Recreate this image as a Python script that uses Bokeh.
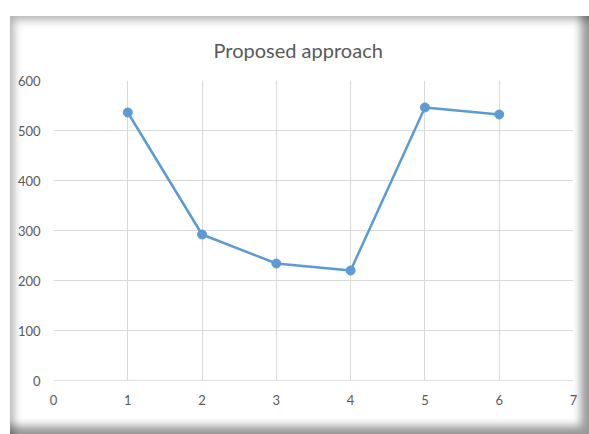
from bokeh.plotting import figure
from bokeh.models import Span, FixedTicker, Range1d, Title
from bokeh.embed import file_html
from bokeh.resources import INLINE

x_vals = [1, 2, 3, 4, 5, 6]
y_vals = [536, 292, 234, 220, 546, 532]
x_ticks = [0, 1, 2, 3, 4, 5, 6, 7]
y_ticks = [0, 100, 200, 300, 400, 500, 600]
title_text = "Proposed approach"

FONT = "Lato"
LINE = "#5B9BD5"
GRID = "#d9d9d9"
TXT = "#595959"

p = figure(width=589, height=434, output_backend="svg", toolbar_location=None,
           x_range=Range1d(0, 7), y_range=Range1d(0, 600),
           min_border_left=53, min_border_right=16, min_border_top=80, min_border_bottom=54)
p.title = None
p.outline_line_color = None
p.background_fill_color = "white"
p.border_fill_alpha = 0
p.styles = {
    "background-color": "white",
    "box-shadow": ("inset 10px 16px 0 0 white, "
                   "inset 16px 22px 9px -2px rgba(0,0,0,0.30), "
                   "inset -10px -10px 9px -2px rgba(0,0,0,0.40)"),
}

t = Title(text=title_text, align="left", text_font=FONT, text_font_size="20px",
          text_color=TXT, text_font_style="normal", offset=160, standoff=37)
p.add_layout(t, "above")

for ax in (p.xaxis, p.yaxis):
    ax.axis_line_color = None
    ax.major_tick_line_color = None
    ax.minor_tick_line_color = None
    ax.major_label_text_font = FONT
    ax.major_label_text_font_size = "13px"
    ax.major_label_text_color = TXT
p.xaxis.ticker = FixedTicker(ticks=x_ticks)
p.yaxis.ticker = FixedTicker(ticks=y_ticks)
p.xaxis.major_label_standoff = 8
p.yaxis.major_label_standoff = 7

p.xgrid.ticker = FixedTicker(ticks=x_ticks)
p.ygrid.ticker = FixedTicker(ticks=y_ticks)
p.xgrid.grid_line_color = GRID
p.ygrid.grid_line_color = GRID
p.xgrid.grid_line_width = 1
p.ygrid.grid_line_width = 1

p.add_layout(Span(location=0, dimension="width", line_color="#bfbfbf", line_width=1))

p.line(x_vals, y_vals, line_color=LINE, line_width=2.5)
p.scatter(x_vals, y_vals, size=9, fill_color=LINE, line_color=LINE)

open("out.html", "w").write(file_html(p, INLINE))
